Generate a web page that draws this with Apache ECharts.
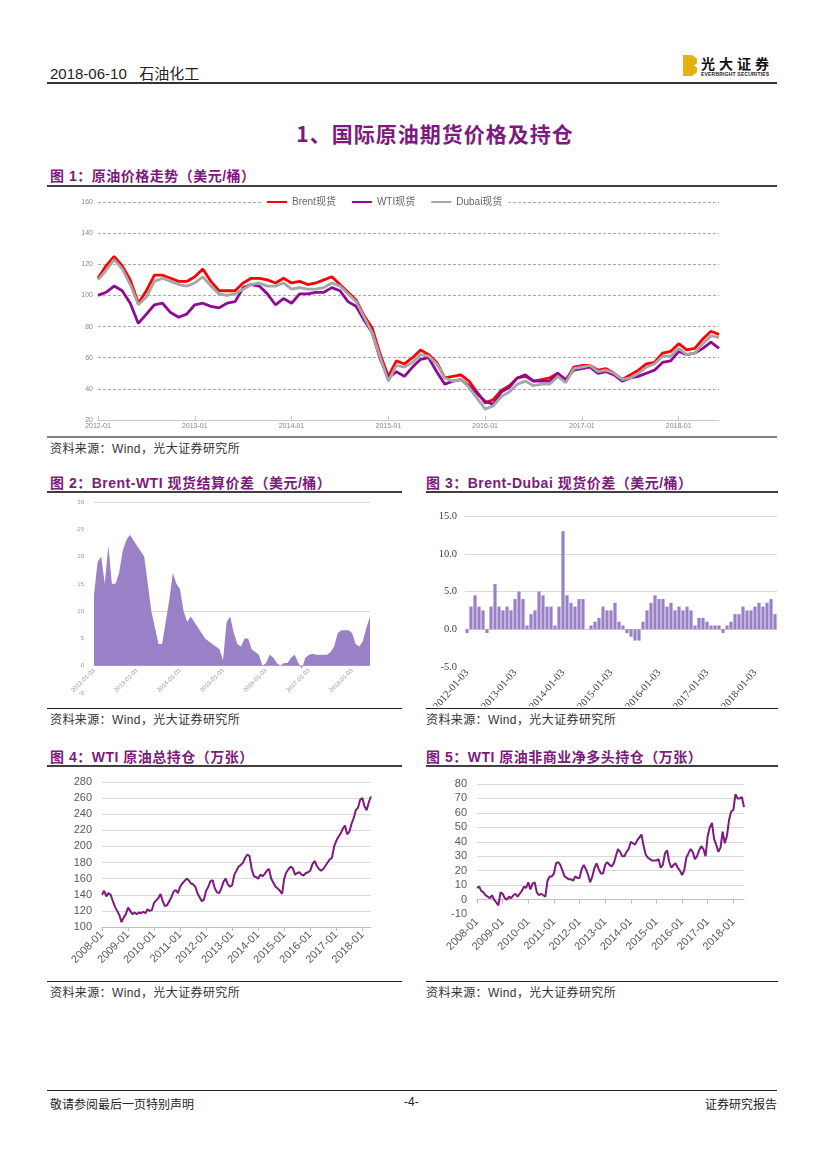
<!DOCTYPE html>
<html><head><meta charset="utf-8">
<script src="https://cdn.jsdelivr.net/npm/echarts@6/dist/echarts.min.js"></script>
<style>
html,body{margin:0;padding:0;background:#fff;}
body{width:827px;height:1169px;position:relative;overflow:hidden;font-family:"Liberation Sans","Noto Sans CJK SC",sans-serif;}
.abs{position:absolute;}
.t{position:absolute;white-space:nowrap;}
.figt{font-size:14px;font-weight:bold;color:#7d1a7d;font-family:"Liberation Sans","Noto Sans CJK SC",sans-serif;letter-spacing:0.5px;}
.src{font-size:12px;color:#333;font-family:"Liberation Sans","Noto Sans CJK SC",sans-serif;letter-spacing:0.4px;}
.hl{position:absolute;background:#404040;}
</style></head>
<body>
<!-- header -->
<div class="t" style="left:50px;top:62px;font-size:15px;color:#222;font-family:'Liberation Sans Narrow','Liberation Sans','Noto Sans CJK SC';">2018-06-10&nbsp;&nbsp;&nbsp;石油化工</div>
<div class="abs" style="left:683px;top:55px;width:14px;height:21px;background:#e3b40f;clip-path:polygon(0 0,65% 0,100% 18%,100% 40%,78% 50%,100% 60%,100% 82%,65% 100%,0 100%);"></div>
<div class="t" style="left:701px;top:53px;font-size:14px;font-weight:bold;color:#111;letter-spacing:4px;font-family:'Noto Sans CJK SC';">光大证券</div>
<div class="t" style="left:701px;top:71px;font-size:5px;font-weight:bold;color:#222;letter-spacing:0.2px;">EVERBRIGHT SECURITIES</div>
<div class="hl" style="left:47px;top:82px;width:730px;height:2px;background:#333;"></div>

<div class="t" style="left:0;width:870px;text-align:center;top:118px;font-size:21px;font-weight:bold;color:#7d1a7d;letter-spacing:1px;font-family:'Noto Sans CJK SC';">1、国际原油期货价格及持仓</div>

<!-- fig 1 -->
<div class="t figt" style="left:50px;top:165px;">图 1：原油价格走势（美元/桶）</div>
<div class="hl" style="left:47px;top:185px;width:730px;height:2px;"></div>
<div id="c1" class="abs" style="left:47px;top:192px;width:730px;height:244px;"></div>
<div class="hl" style="left:47px;top:436px;width:730px;height:2px;background:#808080;"></div>
<div class="t src" style="left:50px;top:439px;">资料来源：Wind，光大证券研究所</div>

<!-- fig 2 / 3 -->
<div class="t figt" style="left:50px;top:472px;">图 2：Brent-WTI 现货结算价差（美元/桶）</div>
<div class="hl" style="left:47px;top:491px;width:355px;height:2px;"></div>
<div id="c2" class="abs" style="left:47px;top:495px;width:355px;height:212px;"></div>
<div class="hl" style="left:47px;top:708px;width:355px;height:1px;background:#222;"></div>
<div class="t src" style="left:50px;top:710px;">资料来源：Wind，光大证券研究所</div>

<div class="t figt" style="left:426px;top:472px;">图 3：Brent-Dubai 现货价差（美元/桶）</div>
<div class="hl" style="left:426px;top:491px;width:352px;height:2px;"></div>
<div id="c3" class="abs" style="left:426px;top:495px;width:352px;height:212px;"></div>
<div class="hl" style="left:426px;top:708px;width:352px;height:1px;background:#222;"></div>
<div class="t src" style="left:426px;top:710px;">资料来源：Wind，光大证券研究所</div>

<!-- fig 4 / 5 -->
<div class="t figt" style="left:50px;top:746px;">图 4：WTI 原油总持仓（万张）</div>
<div class="hl" style="left:47px;top:765px;width:355px;height:2px;"></div>
<div id="c4" class="abs" style="left:47px;top:768px;width:355px;height:212px;"></div>
<div class="hl" style="left:47px;top:981px;width:355px;height:1px;background:#222;"></div>
<div class="t src" style="left:50px;top:983px;">资料来源：Wind，光大证券研究所</div>

<div class="t figt" style="left:426px;top:746px;">图 5：WTI 原油非商业净多头持仓（万张）</div>
<div class="hl" style="left:426px;top:765px;width:352px;height:2px;"></div>
<div id="c5" class="abs" style="left:426px;top:768px;width:352px;height:212px;"></div>
<div class="hl" style="left:426px;top:981px;width:352px;height:1px;background:#222;"></div>
<div class="t src" style="left:426px;top:983px;">资料来源：Wind，光大证券研究所</div>

<!-- footer -->
<div class="hl" style="left:47px;top:1090px;width:730px;height:1px;background:#222;"></div>
<div class="t" style="left:50px;top:1095px;font-size:12px;color:#222;font-family:'Noto Sans CJK SC';">敬请参阅最后一页特别声明</div>
<div class="t" style="left:404px;top:1095px;font-size:12px;color:#222;">-4-</div>
<div class="t" style="right:50px;top:1095px;font-size:12px;color:#222;font-family:'Noto Sans CJK SC';">证券研究报告</div>

<script>
// ---------- data ----------
function monthLabels(y, n) { const a = []; for (let i = 0; i < n; i++) { const yy = y + Math.floor(i / 12), mm = i % 12 + 1; a.push(yy + '-' + (mm < 10 ? '0' : '') + mm); } return a; }

const priceMonths = monthLabels(2012, 78);   // 2012-01 .. 2018-06
const brent = [111,119,125,119,110,95,103,113,113,111,109,109,
  112,117,109,103,103,103,108,111,111,110,108,111,
  108,109,107,108,110,112,107,102,97,87,79,62,
  48,58,56,60,65,62,57,47,48,49,45,38,
  31,33,39,42,47,48,45,46,47,50,45,54,
  55,55,52,53,50,46,49,52,56,57,63,64,
  69,65,66,72,77,75];
const wti = [100,102,106,103,95,82,88,94,95,89,86,88,
  94,95,93,92,95,96,105,107,106,101,94,98,
  95,101,101,102,102,105,103,96,93,84,76,59,
  47,51,48,54,59,60,51,43,45,46,42,37,
  32,30,38,41,47,49,45,45,45,50,46,52,
  53,54,50,51,49,45,47,48,50,52,57,58,
  64,62,63,66,70,66];
const dubai = [110,116,123,117,107,94,99,109,111,109,107,106,
  108,112,106,101,100,101,104,107,108,106,106,108,
  104,105,104,104,105,108,106,101,96,86,76,60,
  45,55,54,57,62,61,56,47,45,46,41,34,
  27,29,35,38,43,45,42,43,43,48,44,53,
  54,55,51,52,50,46,47,50,54,56,61,61,
  66,62,63,69,74,73];

const spreadMonths = monthLabels(2012, 78);
const brentWti = [13,19,20,15,22,15,15,17,21,23,24,23,
  22,21,20,15,10,7,4,4,8,12,17,15,
  14,10,8,9,8,7,6,5,4.5,4,3.5,3,
  1,8,9,6,4,3.5,5,5,3,2.5,2,0,
  0.5,2,1.5,0.5,0,0.5,0.5,1.5,2,0.5,-0.5,1.5,
  2,2.2,2,2,2,2,2.5,3.5,6,6.5,6.5,6.5,
  6,4,3.5,4.5,7,9];
const brentDubai = [-0.5,3,4.5,3,2.5,-0.5,3,6,3,2.5,3,2.5,
  4,5,4,0.5,2,2.5,5,4.5,3,3,0.5,3,
  13,4.5,3.5,3,4,4,0,0.5,1,1.5,3,2.5,
  2.5,3.5,1,0.5,-0.5,-1,-1.5,-1.5,1,2.5,3.5,4.5,
  4,4,3,3.5,2.5,3,2.5,3,2.5,0.5,1.5,1.5,
  1,0.5,0.5,0.5,-0.5,0.5,1,2,2,3,2.5,2.5,
  3,3.5,3,3.5,4,2];

const oiMonths = monthLabels(2008, 125);     // 2008-01 .. 2018-05
const openInterest = [140,145,138,142,140,132,125,120,115,106,112,116,
  124,120,116,118,116,118,117,119,117,122,120,121,
  130,133,136,141,132,126,127,132,137,144,146,142,
  150,154,157,160,158,154,153,150,142,137,132,134,
  145,150,157,158,148,143,142,148,156,160,153,150,
  152,165,170,175,177,180,186,190,188,172,163,162,
  160,165,163,166,170,172,160,155,150,148,145,141,
  160,168,172,175,173,165,167,168,165,164,167,168,
  170,178,182,176,172,170,172,176,180,184,186,200,
  207,212,216,222,226,215,218,228,235,245,248,258,
  260,250,245,255,262];

const nlMonths = monthLabels(2008, 126);     // 2008-01 .. 2018-06
const netLong = [8,9,6,5,3,2,1,3,0,-2,-4,5,
  4,1,0,2,1,3,4,2,4,6,9,8,
  12,7,11,12,5,3,4,3,2,13,16,16,
  18,25,26,24,20,16,15,14,14,13,16,15,
  15,21,24,21,17,12,16,22,25,21,18,18,
  24,26,24,23,25,30,35,33,30,30,33,35,
  40,39,38,41,43,45,37,31,29,28,27,27,
  27,28,22,24,32,34,26,22,24,25,22,20,
  17,20,29,32,35,33,28,30,34,37,35,30,
  44,50,53,42,38,33,36,47,39,44,55,61,
  62,73,70,70,71,64];

// ---------- charts ----------
const SANS = 'Liberation Sans, Noto Sans CJK SC, sans-serif';
const SERIF = 'Liberation Serif, serif';
const isJan = (i, v) => String(v).slice(5, 7) === '01';
const NONE = 'rgba(0,0,0,0)', GL = '#d9d9d9';

// Fig 1
echarts.init(document.getElementById('c1')).setOption({
  animation: false,
  grid: {left: 51, right: 58, top: 10, bottom: 16, outerBoundsMode: 'none'},
  legend: {left: 214, top: 3, icon: 'rect', itemWidth: 20, itemHeight: 2, itemGap: 16, backgroundColor: '#fff', padding: [2, 6],
    textStyle: {fontSize: 10, color: '#666', fontFamily: SANS}, data: ['Brent现货', 'WTI现货', 'Dubai现货']},
  xAxis: {type: 'category', data: priceMonths, boundaryGap: false,
    axisLine: {lineStyle: {color: '#c8c8c8'}},
    axisTick: {interval: isJan, inside: true, length: 4, lineStyle: {color: '#c8c8c8'}},
    axisLabel: {interval: isJan, fontSize: 7, color: '#888', margin: 3, fontFamily: SANS}},
  yAxis: {type: 'value', min: 20, max: 160, interval: 20, axisLine: {show: false}, axisTick: {show: false},
    axisLabel: {fontSize: 7, color: '#888', margin: 5, fontFamily: SANS},
    splitLine: {lineStyle: {type: [3, 2], color: '#aaa', width: 1}}},
  series: [
    {name: 'Brent现货', type: 'line', data: brent, symbol: 'none', lineStyle: {width: 2.8, color: '#ff0000'}, itemStyle: {color: '#ff0000'}},
    {name: 'WTI现货', type: 'line', data: wti, symbol: 'none', lineStyle: {width: 2.8, color: '#8e0a94'}, itemStyle: {color: '#8e0a94'}},
    {name: 'Dubai现货', type: 'line', data: dubai, symbol: 'none', lineStyle: {width: 2.8, color: '#a6a6a6'}, itemStyle: {color: '#a6a6a6'}}
  ]
});

// Fig 2 (second grid only carries the date labels along the zero line)
echarts.init(document.getElementById('c2')).setOption({
  animation: false,
  grid: [
    {left: 47, right: 32, top: 7, bottom: 14, outerBoundsMode: 'none'},
    {left: 47, right: 32, top: 7, bottom: 41.3, outerBoundsMode: 'none'}
  ],
  xAxis: [
    {gridIndex: 0, type: 'category', data: spreadMonths, boundaryGap: false,
      axisLine: {onZero: true, lineStyle: {color: '#d0d0d0'}}, axisTick: {show: false}, axisLabel: {show: false}},
    {gridIndex: 1, type: 'category', data: spreadMonths, boundaryGap: false,
      axisLine: {show: false}, axisTick: {show: false},
      axisLabel: {interval: isJan, rotate: 45, fontSize: 6, color: '#999', margin: 4, fontFamily: SANS, formatter: v => v + '-03'}}
  ],
  yAxis: [
    {gridIndex: 0, type: 'value', min: -5, max: 30, interval: 5, axisLine: {show: false}, axisTick: {show: false},
      axisLabel: {fontSize: 6, color: '#999', margin: 10, fontFamily: SANS},
      splitLine: {lineStyle: {color: [NONE, NONE, NONE, GL, NONE, NONE, NONE, GL]}}},
    {gridIndex: 1, type: 'value', show: false, splitLine: {show: false}}
  ],
  series: [{type: 'line', xAxisIndex: 0, yAxisIndex: 0, data: brentWti, symbol: 'none', lineStyle: {width: 0}, areaStyle: {color: '#9a80c6', opacity: 1}}]
});

// Fig 3
echarts.init(document.getElementById('c3')).setOption({
  animation: false,
  grid: {left: 39, right: 1, top: 21, bottom: 40, outerBoundsMode: 'none'},
  xAxis: {type: 'category', data: spreadMonths, boundaryGap: true,
    axisLine: {onZero: true, lineStyle: {color: '#d0d0d0'}}, axisTick: {show: false},
    axisLabel: {interval: isJan, rotate: 50, fontSize: 10.5, color: '#404040', margin: 4, fontFamily: SERIF, formatter: v => v + '-03'}},
  yAxis: {type: 'value', min: -5, max: 15, interval: 5, axisLine: {show: false}, axisTick: {show: false},
    axisLabel: {fontSize: 10.5, color: '#404040', margin: 8, fontFamily: SERIF, formatter: v => v.toFixed(1)},
    splitLine: {lineStyle: {color: [NONE, NONE, GL, GL, GL]}}},
  series: [{type: 'bar', data: brentDubai, barCategoryGap: '20%', itemStyle: {color: '#9a80c6'}}]
});

// Fig 4
echarts.init(document.getElementById('c4')).setOption({
  animation: false,
  grid: {left: 55, right: 31, top: 14, bottom: 53, outerBoundsMode: 'none'},
  xAxis: {type: 'category', data: oiMonths, boundaryGap: false,
    axisLine: {lineStyle: {color: '#bfbfbf'}},
    axisTick: {interval: isJan, length: 4, lineStyle: {color: '#bfbfbf'}},
    axisLabel: {interval: isJan, rotate: 45, fontSize: 11, color: '#595959', margin: 6, fontFamily: SANS}},
  yAxis: {type: 'value', min: 100, max: 280, interval: 20, axisLine: {show: false}, axisTick: {show: false},
    axisLabel: {fontSize: 11, color: '#595959', margin: 10, fontFamily: SANS},
    splitLine: {lineStyle: {color: GL}}},
  series: [{type: 'line', data: openInterest, symbol: 'none', lineStyle: {width: 2, color: '#7e1a80'}}]
});

// Fig 5
echarts.init(document.getElementById('c5')).setOption({
  animation: false,
  grid: {left: 51, right: 34, top: 16, bottom: 66, outerBoundsMode: 'none'},
  xAxis: [
    {type: 'category', data: nlMonths, boundaryGap: false, position: 'bottom',
      axisLine: {show: false, onZero: false}, axisTick: {show: false},
      axisLabel: {interval: isJan, rotate: 45, fontSize: 11, color: '#595959', margin: 6, fontFamily: SANS}},
    {type: 'category', data: nlMonths, boundaryGap: false, position: 'top',
      axisLine: {onZero: true, lineStyle: {color: '#bfbfbf'}},
      axisTick: {interval: isJan, inside: true, length: 4, lineStyle: {color: '#bfbfbf'}},
      axisLabel: {show: false}}
  ],
  yAxis: {type: 'value', min: -10, max: 80, interval: 10, axisLine: {show: false}, axisTick: {show: false},
    axisLabel: {fontSize: 11, color: '#595959', margin: 10, fontFamily: SANS},
    splitLine: {lineStyle: {color: [NONE, NONE, GL, GL, GL, GL, GL, GL, GL, GL]}}},
  series: [{type: 'line', data: netLong, xAxisIndex: 0, symbol: 'none', lineStyle: {width: 2, color: '#7e1a80'}}]
});
</script>
</body></html>
